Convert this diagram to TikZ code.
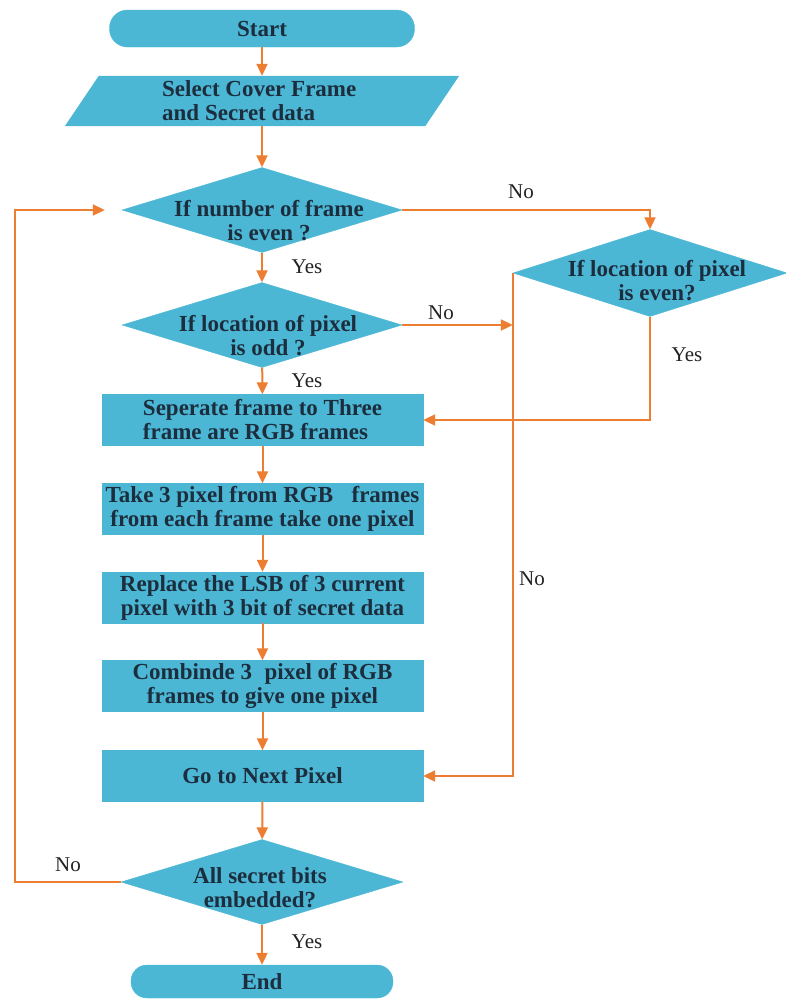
\documentclass[tikz,border=0pt]{standalone}
\usepackage{fontspec}
\setmainfont{Liberation Serif}
\usetikzlibrary{shapes.geometric,arrows.meta}
\definecolor{fillc}{HTML}{4CB7D5}
\definecolor{txtc}{HTML}{1C2E3E}
\definecolor{orng}{HTML}{ED7D31}
\definecolor{lblc}{HTML}{222222}
\begin{document}
\begin{tikzpicture}[x=1pt,y=-1pt,
  shapebox/.style={rectangle, fill=fillc, draw=fillc, inner sep=0pt, minimum width=321pt, minimum height=51pt,
    font=\fontsize{23}{24}\selectfont\bfseries, text=txtc, align=center},
  dia/.style={diamond, fill=fillc, draw=fillc, inner sep=0pt},
  term/.style={rectangle, fill=fillc, draw=fillc, inner sep=0pt, font=\fontsize{23}{24}\selectfont\bfseries, text=txtc},
  dtext/.style={font=\fontsize{23}{24}\selectfont\bfseries, text=txtc, align=center, inner sep=0pt},
  lbl/.style={font=\fontsize{21}{24}\selectfont, text=lblc, inner sep=0pt},
  arr/.style={draw=orng, line width=2pt, -{Triangle[length=12pt,width=11pt]}},
]
\useasboundingbox (0,0) rectangle (785,999);

% terminals
\node[term, minimum width=305pt, minimum height=37pt, rounded corners=18pt] (start) at (262,28.5) {Start};
\node[term, minimum width=262pt, minimum height=33pt, rounded corners=16pt] (end) at (262,981.5) {End};

% input parallelogram
\node[inner sep=0pt, minimum width=360pt, minimum height=50pt] (sel) at (262,101) {};
\fill[fillc] ([xshift=17pt]sel.north west) -- ([xshift=17pt]sel.north east)
  -- ([xshift=-17pt]sel.south east) -- ([xshift=-17pt]sel.south west) -- cycle;
\node[dtext, anchor=west, align=left] (selt) at (162,101) {Select Cover Frame\\and Secret data};

% decisions
\node[dia, minimum width=280pt, minimum height=85pt] (d1) at (262,210) {};
\node[dtext] (d1t) at (269,221) {If number of frame\\is even ?};
\node[dia, minimum width=280pt, minimum height=85pt] (d2) at (262,325) {};
\node[dtext] (d2t) at (268,336) {If location of pixel\\is odd ?};
\node[dia, minimum width=274pt, minimum height=87pt] (d4) at (650,273) {};
\node[dtext] (d4t) at (657,281) {If location of pixel\\is even?};
\node[dia, minimum width=282pt, minimum height=85pt] (d3) at (262,882) {};
\node[dtext] (d3t) at (260,888) {All secret bits\\embedded?};

% process boxes
\node[shapebox, align=left] (b1) at (262.5,420) {Seperate frame to Three\\frame are RGB frames};
\node[shapebox] (b2) at (262.5,509) {Take 3 pixel from RGB\hspace{0.55em} frames\\from each frame take one pixel};
\node[shapebox] (b3) at (262.5,597.5) {Replace the LSB of 3 current\\pixel with 3 bit of secret data};
\node[shapebox] (b4) at (262.5,686) {Combinde 3\hspace{0.3em} pixel of RGB\\frames to give one pixel};
\node[shapebox] (b5) at (262.5,776) {Go to Next Pixel};

% main flow
\draw[arr] (start) -- (sel);
\draw[arr] (sel) -- (d1);
\draw[arr] (d1) -- (d2);
\draw[arr] (d2) -- (b1);
\draw[arr] (b1) -- (b2);
\draw[arr] (b2) -- (b3);
\draw[arr] (b3) -- (b4);
\draw[arr] (b4) -- (b5);
\draw[arr] (b5) -- (d3);
\draw[arr] (d3) -- (end);

% branches
\draw[arr] (d1.east) -| (d4.north);
\draw[arr] (d2.east) -- (d2.east -| d4.west);
\draw[arr] (d4.west) |- (b5.east);
\draw[arr] (d4.south) |- (b1.east);
\coordinate (lp) at (15,882);
\draw[arr, shorten >=17pt] (d3.west) -- (lp) |- (d1.west);

% labels
\node[lbl] (y1) at (307,267) {Yes};
\node[lbl] (y2) at (307,381) {Yes};
\node[lbl] (y3) at (307,942) {Yes};
\node[lbl] (y4) at (687,355) {Yes};
\node[lbl] (n1) at (521,192) {No};
\node[lbl] (n2) at (441,313) {No};
\node[lbl] (n3) at (532,579) {No};
\node[lbl] (n4) at (68,865) {No};
\end{tikzpicture}
\end{document}
